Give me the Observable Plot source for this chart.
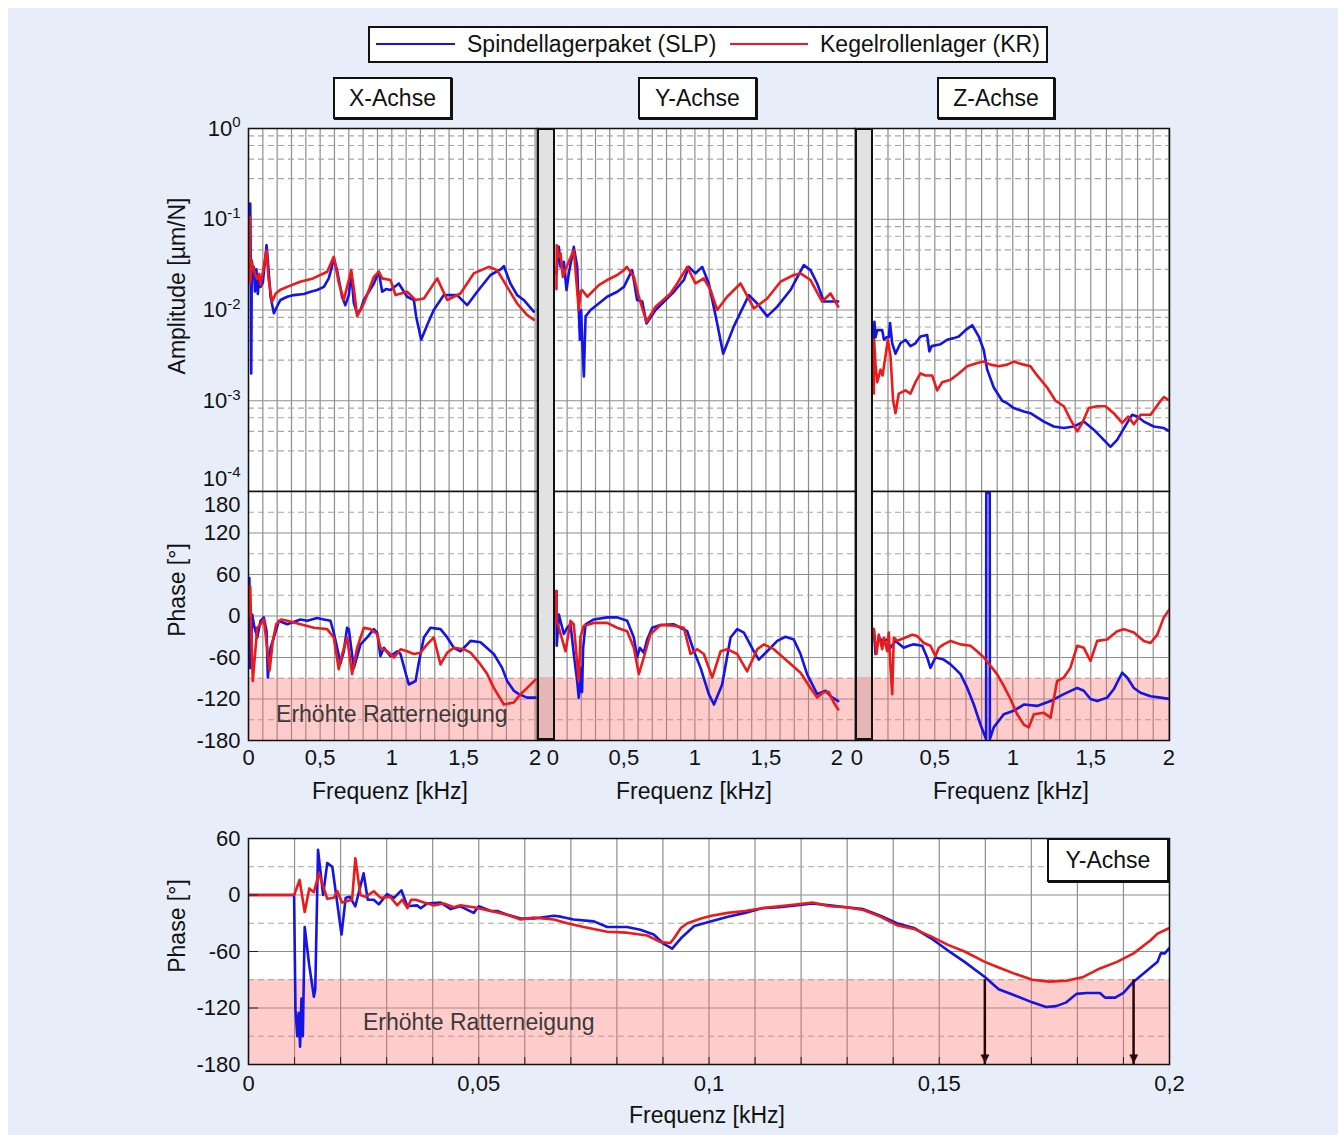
<!DOCTYPE html>
<html><head><meta charset="utf-8">
<script src="https://cdn.jsdelivr.net/npm/d3@7"></script>
<script src="https://cdn.jsdelivr.net/npm/@observablehq/plot@0.6"></script>
<style>
body{margin:0;background:#fff;}
#root{position:relative;width:1338px;height:1135px;background:#fff;overflow:hidden;font-family:"Liberation Sans",Arial,Helvetica,sans-serif;color:#111;}
#bg{position:absolute;left:8px;top:8px;right:0;bottom:0;background:#e7eef9;}
.box{position:absolute;background:#fff;border:2px solid #111;box-sizing:border-box;display:flex;align-items:center;justify-content:center;font-size:23px;box-shadow:1px 1px 0 #111;}
.lbl{position:absolute;font-size:23px;white-space:nowrap;line-height:1;}
.bar{position:absolute;box-sizing:border-box;border:2px solid #111;}
.ln{position:absolute;height:0;}
</style></head><body><div id="root"><div id="bg"></div></div>
<script>
// ---------------- data (frequency in kHz, amplitude in µm/N, phase in °) ----------------
const seriesNames = ["Spindellagerpaket (SLP)", "Kegelrollenlager (KR)"];
const axisNames = ["X-Achse", "Y-Achse", "Z-Achse"];

const xAmpSLP = [[0.005,0.042],[0.012,0.149],[0.016,0.03],[0.019,0.002],[0.023,0.035],[0.03,0.025],[0.037,0.03],[0.045,0.016],[0.055,0.028],[0.065,0.015],[0.075,0.022],[0.084,0.018],[0.1,0.02],[0.126,0.0518],[0.135,0.035],[0.154,0.014],[0.177,0.0092],[0.2,0.011],[0.223,0.0129],[0.27,0.014],[0.316,0.0146],[0.386,0.015],[0.433,0.0159],[0.479,0.0166],[0.526,0.018],[0.56,0.0223],[0.582,0.0299],[0.595,0.037],[0.618,0.0275],[0.653,0.014],[0.676,0.0113],[0.7,0.0146],[0.717,0.0253],[0.735,0.012],[0.758,0.0092],[0.782,0.01],[0.805,0.0129],[0.84,0.0159],[0.875,0.0196],[0.909,0.0264],[0.933,0.0159],[0.96,0.017],[0.991,0.0166],[1.049,0.0196],[1.107,0.014],[1.154,0.0129],[1.17,0.0085],[1.205,0.0047],[1.25,0.007],[1.293,0.01],[1.363,0.0146],[1.456,0.0146],[1.526,0.0113],[1.596,0.0159],[1.689,0.0243],[1.76,0.028],[1.782,0.0305],[1.828,0.0196],[1.875,0.0146],[1.921,0.0129],[1.991,0.0096]];
const xAmpKR = [[0.005,0.03],[0.009,0.106],[0.013,0.02],[0.02,0.035],[0.03,0.03],[0.045,0.025],[0.06,0.022],[0.075,0.025],[0.084,0.019],[0.1,0.026],[0.126,0.0456],[0.14,0.022],[0.165,0.0124],[0.19,0.0152],[0.22,0.0166],[0.27,0.018],[0.36,0.0205],[0.45,0.0223],[0.549,0.0264],[0.595,0.0385],[0.63,0.02],[0.665,0.0129],[0.717,0.0275],[0.74,0.015],[0.758,0.0085],[0.805,0.0118],[0.875,0.0232],[0.91,0.0264],[0.933,0.0223],[0.991,0.0214],[1.026,0.0146],[1.107,0.0159],[1.165,0.0129],[1.224,0.0134],[1.317,0.0223],[1.387,0.0129],[1.479,0.0152],[1.572,0.0253],[1.677,0.0299],[1.735,0.0275],[1.805,0.018],[1.875,0.0118],[1.945,0.0088],[1.991,0.0078]];
const yAmpSLP = [[0.025,0.0253],[0.042,0.0496],[0.054,0.0299],[0.077,0.034],[0.096,0.0166],[0.112,0.0253],[0.147,0.0496],[0.171,0.0299],[0.19,0.0047],[0.199,0.01],[0.206,0.0047],[0.218,0.00185],[0.23,0.0085],[0.265,0.01],[0.323,0.0118],[0.382,0.014],[0.453,0.0159],[0.5,0.018],[0.558,0.0275],[0.593,0.0129],[0.629,0.0124],[0.659,0.0071],[0.723,0.01],[0.852,0.0159],[0.922,0.0214],[0.957,0.0299],[1.004,0.0253],[1.051,0.0299],[1.098,0.0196],[1.157,0.0071],[1.199,0.0033],[1.274,0.0066],[1.38,0.0146],[1.439,0.0118],[1.509,0.0085],[1.58,0.0109],[1.673,0.0166],[1.767,0.0312],[1.814,0.0275],[1.861,0.0196],[1.908,0.0124],[1.978,0.0124],[2.009,0.0124]];
const yAmpKR = [[0.025,0.017],[0.027,0.0518],[0.042,0.0385],[0.054,0.042],[0.07,0.0232],[0.096,0.03],[0.147,0.0456],[0.159,0.0275],[0.182,0.01],[0.195,0.016],[0.206,0.0166],[0.242,0.014],[0.323,0.0188],[0.382,0.0214],[0.453,0.0243],[0.5,0.0275],[0.52,0.0299],[0.57,0.0232],[0.605,0.014],[0.659,0.0074],[0.723,0.0109],[0.828,0.0152],[0.875,0.0196],[0.946,0.0299],[1.004,0.0196],[1.063,0.0223],[1.11,0.0166],[1.157,0.01],[1.227,0.014],[1.321,0.0196],[1.415,0.0104],[1.509,0.0134],[1.603,0.0205],[1.696,0.0243],[1.744,0.0253],[1.814,0.0214],[1.896,0.0124],[1.955,0.0152],[2.009,0.0109]];
const zAmpSLP = [[0.109,0.0047],[0.113,0.0074],[0.12,0.005],[0.131,0.006],[0.163,0.006],[0.174,0.0047],[0.19,0.005],[0.205,0.005],[0.213,0.0072],[0.227,0.0043],[0.248,0.0033],[0.28,0.0043],[0.312,0.0047],[0.344,0.004],[0.376,0.0043],[0.408,0.0051],[0.451,0.0053],[0.465,0.0035],[0.48,0.004],[0.537,0.0042],[0.579,0.0047],[0.622,0.0049],[0.654,0.0051],[0.697,0.006],[0.74,0.0068],[0.782,0.0051],[0.814,0.0036],[0.836,0.0022],[0.878,0.0014],[0.932,0.001],[0.964,0.00094],[1.006,0.00083],[1.071,0.00076],[1.113,0.00073],[1.199,0.00059],[1.263,0.00052],[1.327,0.0005],[1.391,0.00052],[1.455,0.00059],[1.519,0.00048],[1.583,0.00037],[1.626,0.00031],[1.669,0.00037],[1.733,0.00057],[1.765,0.0007],[1.797,0.00067],[1.84,0.00059],[1.904,0.00052],[1.968,0.0005],[2.006,0.00046]];
const zAmpKR = [[0.109,0.0012],[0.111,0.0047],[0.12,0.0025],[0.131,0.0016],[0.152,0.0022],[0.165,0.0019],[0.184,0.0031],[0.199,0.0047],[0.216,0.0031],[0.233,0.001],[0.248,0.00073],[0.269,0.0012],[0.312,0.0013],[0.344,0.0012],[0.376,0.0016],[0.408,0.002],[0.44,0.0019],[0.483,0.0019],[0.515,0.0013],[0.547,0.0016],[0.601,0.0017],[0.654,0.002],[0.708,0.0024],[0.772,0.0026],[0.814,0.0027],[0.857,0.0025],[0.91,0.0024],[0.964,0.0025],[1.006,0.0027],[1.071,0.0025],[1.113,0.0024],[1.156,0.0019],[1.22,0.0014],[1.274,0.001],[1.327,0.00087],[1.37,0.00062],[1.413,0.00046],[1.445,0.00057],[1.487,0.00083],[1.541,0.00087],[1.594,0.00087],[1.647,0.00073],[1.701,0.00057],[1.74,0.00067],[1.776,0.00055],[1.819,0.0007],[1.883,0.0007],[1.936,0.00094],[1.968,0.0011],[2.006,0.001]];

const xPhaseSLP = [[0.0,-75],[0.006,55],[0.012,-75],[0.026,2],[0.04,-15],[0.061,-31],[0.084,-7],[0.107,-2],[0.126,-22],[0.135,-89],[0.154,-46],[0.177,-31],[0.212,-7],[0.27,-12],[0.363,-5],[0.409,-7],[0.479,-3],[0.526,-5],[0.572,-7],[0.595,-24],[0.642,-68],[0.665,-51],[0.688,-17],[0.7,-19],[0.735,-75],[0.782,-41],[0.828,-31],[0.875,-19],[0.898,-24],[0.921,-58],[0.945,-46],[0.991,-58],[1.038,-51],[1.061,-55],[1.096,-82],[1.119,-99],[1.166,-94],[1.189,-67],[1.224,-31],[1.27,-17],[1.34,-19],[1.387,-31],[1.433,-46],[1.48,-51],[1.55,-36],[1.619,-38],[1.712,-55],[1.77,-75],[1.805,-94],[1.852,-108],[1.887,-113],[1.945,-118],[2.003,-118]];
const xPhaseKR = [[0.0,0],[0.012,43],[0.02,-30],[0.03,-94],[0.061,-17],[0.084,-12],[0.107,-5],[0.135,-55],[0.147,-79],[0.17,-36],[0.193,-12],[0.228,-5],[0.27,-7],[0.363,-12],[0.456,-17],[0.549,-19],[0.595,-31],[0.63,-77],[0.654,-55],[0.688,-31],[0.723,-84],[0.758,-46],[0.805,-17],[0.851,-19],[0.898,-26],[0.921,-46],[0.968,-51],[1.015,-60],[1.061,-48],[1.107,-51],[1.154,-55],[1.2,-53],[1.247,-41],[1.293,-31],[1.305,-41],[1.34,-70],[1.387,-53],[1.433,-46],[1.503,-48],[1.55,-53],[1.619,-70],[1.666,-84],[1.712,-104],[1.782,-128],[1.852,-125],[1.898,-113],[1.945,-104],[2.003,-92]];
const yPhaseSLP = [[0.025,36],[0.027,-43],[0.042,2],[0.077,-26],[0.1,-17],[0.124,-12],[0.147,-55],[0.171,-94],[0.182,-118],[0.19,-104],[0.199,-75],[0.205,-110],[0.213,-46],[0.23,-12],[0.288,-5],[0.382,-2],[0.453,-2],[0.523,-7],[0.57,-31],[0.593,-60],[0.612,-46],[0.64,-53],[0.664,-34],[0.699,-17],[0.758,-13],[0.852,-12],[0.899,-17],[0.946,-22],[0.993,-51],[1.04,-75],[1.098,-113],[1.134,-128],[1.192,-99],[1.251,-31],[1.298,-19],[1.345,-24],[1.415,-51],[1.45,-63],[1.509,-51],[1.58,-36],[1.638,-30],[1.696,-34],[1.744,-55],[1.79,-84],[1.861,-113],[1.92,-108],[1.955,-116],[2.009,-123]];
const yPhaseKR = [[0.025,36],[0.027,-7],[0.054,-26],[0.089,-51],[0.124,-7],[0.147,-12],[0.182,-94],[0.194,-31],[0.218,-14],[0.288,-10],[0.382,-10],[0.453,-17],[0.523,-22],[0.57,-46],[0.605,-84],[0.64,-60],[0.687,-26],[0.758,-13],[0.852,-14],[0.922,-17],[0.969,-55],[1.016,-48],[1.063,-55],[1.122,-89],[1.181,-51],[1.227,-48],[1.298,-55],[1.368,-80],[1.439,-48],[1.486,-41],[1.556,-48],[1.65,-65],[1.744,-82],[1.814,-104],[1.861,-118],[1.908,-110],[1.943,-110],[1.978,-125],[2.009,-135]];
const zPhaseSLP = [[0.109,-19],[0.12,-55],[0.141,-31],[0.163,-36],[0.195,-34],[0.216,-46],[0.248,-36],[0.301,-46],[0.333,-43],[0.365,-41],[0.419,-43],[0.451,-60],[0.472,-75],[0.504,-60],[0.557,-63],[0.601,-70],[0.665,-84],[0.708,-104],[0.75,-128],[0.793,-157],[0.825,-176],[0.829,-178],[0.83,178],[0.852,178],[0.853,-178],[0.878,-161],[0.942,-142],[1.006,-137],[1.071,-128],[1.156,-130],[1.242,-123],[1.327,-113],[1.413,-104],[1.455,-108],[1.498,-120],[1.541,-123],[1.605,-118],[1.647,-106],[1.701,-82],[1.733,-89],[1.776,-104],[1.819,-111],[1.883,-116],[1.947,-118],[2.006,-120]];
const zPhaseKR = [[0.109,-19],[0.126,-55],[0.141,-27],[0.163,-48],[0.173,-31],[0.195,-51],[0.205,-24],[0.216,-75],[0.227,-113],[0.237,-31],[0.259,-36],[0.28,-34],[0.312,-31],[0.355,-27],[0.387,-29],[0.43,-39],[0.472,-43],[0.504,-58],[0.526,-46],[0.557,-41],[0.601,-36],[0.665,-41],[0.729,-43],[0.771,-51],[0.814,-60],[0.857,-72],[0.899,-84],[0.942,-101],[0.985,-120],[1.028,-142],[1.071,-157],[1.103,-161],[1.135,-142],[1.199,-140],[1.242,-147],[1.263,-120],[1.284,-94],[1.327,-89],[1.369,-75],[1.413,-43],[1.455,-46],[1.498,-65],[1.541,-36],[1.605,-34],[1.669,-22],[1.712,-19],[1.776,-24],[1.84,-36],[1.883,-39],[1.926,-27],[1.968,-2],[2.006,10]];

const zoomPhaseSLP = [[0,0],[0.0099,0],[0.0102,-122],[0.0106,-150],[0.0109,-125],[0.0112,-161],[0.0115,-110],[0.0118,-150],[0.0122,-34],[0.0132,-75],[0.0142,-108],[0.0145,-100],[0.0151,48],[0.0162,0],[0.0171,34],[0.0182,30],[0.0202,-42],[0.0211,-3],[0.022,-2],[0.0232,-12],[0.025,23],[0.0259,-5],[0.0272,-5],[0.0283,-10],[0.0301,1],[0.0316,-3],[0.0332,5],[0.0345,-12],[0.0366,-11],[0.0374,-14],[0.0388,-9],[0.0417,-8],[0.0439,-15],[0.046,-12],[0.0489,-19],[0.05,-12],[0.0526,-17],[0.054,-17],[0.0562,-21],[0.0591,-25],[0.062,-25],[0.0663,-22],[0.0678,-23],[0.0706,-26],[0.075,-28],[0.0779,-34],[0.0822,-34],[0.0851,-37],[0.088,-42],[0.0902,-52],[0.092,-57],[0.0939,-46],[0.0968,-33],[0.1005,-28],[0.1041,-23],[0.1078,-19],[0.1115,-14],[0.1152,-13],[0.1188,-11],[0.1225,-9],[0.1262,-11],[0.1298,-13],[0.1335,-15],[0.1372,-22],[0.1408,-30],[0.1445,-35],[0.1482,-46],[0.1519,-59],[0.1555,-71],[0.1599,-87],[0.1629,-100],[0.1666,-107],[0.1702,-114],[0.1732,-119],[0.1754,-118],[0.1776,-114],[0.1798,-105],[0.182,-104],[0.1849,-104],[0.186,-109],[0.1882,-109],[0.19,-104],[0.1922,-92],[0.1952,-80],[0.1974,-71],[0.1981,-62],[0.199,-62],[0.2,-56]];
const zoomPhaseKR = [[0,0],[0.0099,0],[0.0111,16],[0.0122,-18],[0.0132,7],[0.0142,3],[0.0153,23],[0.0171,-4],[0.0185,-3],[0.0193,4],[0.0203,-8],[0.0225,-5],[0.0232,39],[0.0243,0],[0.0254,-2],[0.0272,4],[0.0287,-3],[0.0308,-2],[0.0323,-11],[0.0334,-5],[0.0345,-14],[0.0353,-5],[0.0363,-5],[0.0381,-8],[0.0402,-11],[0.0424,-9],[0.0446,-13],[0.046,-11],[0.0489,-13],[0.0526,-17],[0.0562,-21],[0.0591,-26],[0.062,-24],[0.0663,-26],[0.0692,-30],[0.0728,-34],[0.0779,-39],[0.0822,-40],[0.0866,-43],[0.0895,-50],[0.0916,-51],[0.0924,-46],[0.0939,-35],[0.0953,-30],[0.0983,-25],[0.1005,-22],[0.1041,-19],[0.1078,-17],[0.1115,-14],[0.1152,-12],[0.1188,-10],[0.1225,-8],[0.1262,-12],[0.1298,-13],[0.1335,-16],[0.1372,-23],[0.1408,-32],[0.1445,-36],[0.1482,-44],[0.1519,-53],[0.1555,-60],[0.1599,-71],[0.1629,-77],[0.1666,-84],[0.1702,-90],[0.1739,-92],[0.1776,-91],[0.1813,-87],[0.1849,-78],[0.1886,-71],[0.1922,-62],[0.1959,-48],[0.1974,-41],[0.2,-35]];

// ticks & labels
const ampTicks = [1, 0.1, 0.01, 0.001, 0.0001];
const ampTickLabels = ["10^0", "10^-1", "10^-2", "10^-3", "10^-4"];
const ampMinorFactors = [0.83, 0.65, 0.46, 0.28];
const phaseTicks = [180, 120, 60, 0, -60, -120, -180];
const phaseDashed = [150, 90, 30, -30, -90, -150];
const freqTicks = [0, 0.5, 1, 1.5, 2];
const freqTickLabels = ["0", "0,5", "1", "1,5", "2"];
const zoomFreqTicks = [0, 0.05, 0.1, 0.15, 0.2];
const zoomFreqTickLabels = ["0", "0,05", "0,1", "0,15", "0,2"];
const zoomPhaseTicks = [60, 0, -60, -120, -180];
const zoomPhaseDashed = [30, -30, -90, -150];
const chatterThreshold = -90;   // below: "Erhöhte Ratterneigung"
const chatterLabel = "Erhöhte Ratterneigung";
const topLabelPos = [{f: 1.0, p: -142}];
const zoomLabelPos = [{f: 0.05, p: -135}];
const zoomArrows = [{f: 0.1599, from: -90, to: -180}, {f: 0.1922, from: -90, to: -180}];

// ---------------- styling ----------------
const BLUE = "#1414e6", RED = "#ee1a1a", GRID = "#8e8e8e", GRID_D = "#a6a6a6", PINK = "#ff6e6e", ARROW = "#2a0505";
const FONT = '"Liberation Sans", Arial, Helvetica, sans-serif';
const root = document.getElementById("root");
const ampLabel = new Map(ampTicks.map((v, i) => [v, ampTickLabels[i]]));
const freqLabel = new Map(freqTicks.map((v, i) => [v, freqTickLabels[i]]));
const zoomFreqLabel = new Map(zoomFreqTicks.map((v, i) => [v, zoomFreqTickLabels[i]]));
const ampMinor = ampTicks.slice(0, 4).flatMap(d => ampMinorFactors.map(m => d * m));
const freqGrid = d3.range(0, 2.0001, 0.1).map(v => +v.toFixed(2));
const zoomFreqGrid = d3.range(0, 0.20001, 0.01).map(v => +v.toFixed(3));
const degFmt = v => String(v);   // plain hyphen minus as in the original
const style = {background: "transparent", fontFamily: FONT, fontSize: "22px", color: "#111", overflow: "visible"};

function supify(svg) {
  svg.querySelectorAll("text").forEach(t => {
    const s = t.textContent, i = s.indexOf("^");
    if (i < 0) return;
    t.textContent = "";
    const ns = "http://www.w3.org/2000/svg";
    const a = document.createElementNS(ns, "tspan"); a.textContent = s.slice(0, i);
    const b = document.createElementNS(ns, "tspan"); b.textContent = s.slice(i + 1);
    b.setAttribute("dy", "-0.55em"); b.setAttribute("font-size", "15");
    t.append(a, b);
  });
}
function place(svg, left, top) {
  svg.style.position = "absolute"; svg.style.left = left + "px"; svg.style.top = top + "px";
  root.appendChild(svg);
}
function div(cls, css, text) {
  const d = document.createElement("div"); d.className = cls; Object.assign(d.style, css);
  if (text != null) d.textContent = text; root.appendChild(d); return d;
}

// ---------------- layout ----------------
const frameTop = 128, frameMid = 491, frameBot = 740;
const columns = [
  {left: 248, right: 537, domain: [0, 2.017], yAxis: true, amp: [xAmpSLP, xAmpKR], ph: [xPhaseSLP, xPhaseKR], label: true},
  {left: 537, right: 855, domain: [-0.1085, 2.131], yAxis: false, amp: [yAmpSLP, yAmpKR], ph: [yPhaseSLP, yPhaseKR]},
  {left: 855, right: 1169, domain: [-0.0083, 2.0045], yAxis: false, amp: [zAmpSLP, zAmpKR], ph: [zPhaseSLP, zPhaseKR]}
];
const lineOpts = (color) => ({x: d => d[0], y: d => d[1], stroke: color, strokeWidth: 2.6, clip: true, strokeLinejoin: "round"});
const whiteBg = () => Plot.frame({fill: "#fff", stroke: null});

for (const c of columns) {
  // amplitude panel
  {
    const mL = c.yAxis ? 100 : 10, mR = 10, mT = 15, mB = 15;
    const marks = [
      whiteBg(),
      Plot.ruleX(freqGrid, {stroke: GRID, strokeWidth: 1.2}),
      Plot.ruleY(ampMinor, {stroke: GRID_D, strokeWidth: 1.1, strokeDasharray: "6,4"}),
      Plot.ruleY(ampTicks, {stroke: GRID, strokeWidth: 1.2}),
      Plot.line(c.amp[0], lineOpts(BLUE)),
      Plot.line(c.amp[1], lineOpts(RED)),
      Plot.frame({stroke: "#111", strokeWidth: 1.5})
    ];
    if (c.yAxis) {
      marks.push(Plot.axisY(ampTicks.slice(0, 4), {tickFormat: v => ampLabel.get(v), tickSize: 0, tickPadding: 8, label: null}));
      marks.push(Plot.axisY(ampTicks.slice(4), {tickFormat: v => ampLabel.get(v), tickSize: 0, tickPadding: 8, dy: -13, label: null}));
    }
    const svg = Plot.plot({
      width: mL + (c.right - c.left) + mR, height: mT + (frameMid - frameTop) + mB,
      marginLeft: mL, marginRight: mR, marginTop: mT, marginBottom: mB,
      x: {domain: c.domain, axis: null},
      y: c.yAxis ? {type: "log", domain: [1e-4, 1]} : {type: "log", domain: [1e-4, 1], axis: null},
      marks, style
    });
    supify(svg);
    place(svg, c.left - mL, frameTop - mT);
  }
  // phase panel
  {
    const mL = c.yAxis ? 100 : 10, mR = 10, mT = 10, mB = 45;
    const band = [{x1: c.domain[0], x2: c.domain[1], y1: -180, y2: chatterThreshold}];
    const marks = [
      whiteBg(),
      Plot.ruleX(freqGrid, {stroke: GRID, strokeWidth: 1.2}),
      Plot.ruleY(phaseDashed, {stroke: GRID_D, strokeWidth: 1.1, strokeDasharray: "6,4"}),
      Plot.ruleY(phaseTicks, {stroke: GRID, strokeWidth: 1.2}),
      Plot.rect(band, {x1: "x1", x2: "x2", y1: "y1", y2: "y2", fill: PINK, fillOpacity: 0.35}),
      Plot.line(c.ph[0], lineOpts(BLUE)),
      Plot.line(c.ph[1], lineOpts(RED)),
      Plot.axisX(freqTicks, {tickFormat: v => freqLabel.get(v), tickSize: 0, tickPadding: 9, label: null}),
      Plot.frame({stroke: "#111", strokeWidth: 1.5})
    ];
    if (c.label) marks.push(Plot.text(topLabelPos, {x: "f", y: "p", text: () => chatterLabel, fontSize: 23, fill: "#3a3a3a"}));
    if (c.yAxis) {
      marks.push(Plot.axisY(phaseTicks.slice(1), {tickFormat: degFmt, tickSize: 0, tickPadding: 8, label: null}));
      marks.push(Plot.axisY(phaseTicks.slice(0, 1), {tickFormat: degFmt, tickSize: 0, tickPadding: 8, dy: 13, label: null}));
    }
    const svg = Plot.plot({
      width: mL + (c.right - c.left) + mR, height: mT + (frameBot - frameMid) + mB,
      marginLeft: mL, marginRight: mR, marginTop: mT, marginBottom: mB,
      x: {domain: c.domain},
      y: c.yAxis ? {domain: [-180, 180]} : {domain: [-180, 180], axis: null},
      marks, style
    });
    place(svg, c.left - mL, frameMid - mT);
  }
}

// gray separator bars
for (const [l, r] of [[537, 555], [855, 873]]) {
  div("bar", {left: l + "px", top: frameTop + "px", width: (r - l) + "px", height: (frameBot - frameTop) + "px",
    background: "linear-gradient(to bottom, #e2e2e2 0px, #e2e2e2 547px, #e6b6b6 547px)"});
}

// bottom zoom plot
{
  const L = 248, R = 1169, T = 838, B = 1064;
  const mL = 100, mR = 10, mT = 10, mB = 40;
  const band = [{x1: 0, x2: 0.2, y1: -180, y2: chatterThreshold}];
  const svg = Plot.plot({
    width: mL + (R - L) + mR, height: mT + (B - T) + mB,
    marginLeft: mL, marginRight: mR, marginTop: mT, marginBottom: mB,
    x: {domain: [0, 0.2]}, y: {domain: [-180, 60]},
    marks: [
      whiteBg(),
      Plot.ruleX(zoomFreqGrid, {stroke: GRID, strokeWidth: 1.2}),
      Plot.ruleY(zoomPhaseDashed, {stroke: GRID_D, strokeWidth: 1.1, strokeDasharray: "6,4"}),
      Plot.ruleY(zoomPhaseTicks, {stroke: GRID, strokeWidth: 1.2}),
      Plot.rect(band, {x1: "x1", x2: "x2", y1: "y1", y2: "y2", fill: PINK, fillOpacity: 0.35}),
      Plot.text(zoomLabelPos, {x: "f", y: "p", text: () => chatterLabel, fontSize: 23, fill: "#3a3a3a"}),
      Plot.line(zoomPhaseSLP, lineOpts(BLUE)),
      Plot.line(zoomPhaseKR, lineOpts(RED)),
      Plot.ruleX(zoomArrows, {x: "f", y1: "from", y2: "to", stroke: ARROW, strokeWidth: 2.5}),
      Plot.text(zoomArrows, {x: "f", y: "to", text: () => "▼", fill: ARROW, fontSize: 15, dy: -6}),
      Plot.axisX(zoomFreqGrid, {tickSize: -7, tickFormat: () => "", label: null, stroke: "#222"}),
      Plot.axisY(zoomPhaseTicks, {tickSize: -10, tickFormat: () => "", label: null, stroke: "#222"}),
      Plot.axisX(zoomFreqTicks, {tickFormat: v => zoomFreqLabel.get(v), tickSize: 0, tickPadding: 11, label: null}),
      Plot.axisY(zoomPhaseTicks, {tickFormat: degFmt, tickSize: 0, tickPadding: 8, label: null}),
      Plot.frame({stroke: "#111", strokeWidth: 1.5})
    ],
    style
  });
  place(svg, L - mL, T - mT);
  div("box", {left: "1047px", top: "838px", width: "122px", height: "44px"}, axisNames[1]);
}

// titles
function lbl(text, x, y, rot) {
  return div("lbl", {left: x + "px", top: y + "px", transform: "translate(-50%,-50%)" + (rot ? " rotate(-90deg)" : "")}, text);
}
lbl("Amplitude [µm/N]", 177, 286, true);
lbl("Phase [°]", 177, 590, true);
lbl("Phase [°]", 177, 926, true);
lbl("Frequenz [kHz]", 390, 791);
lbl("Frequenz [kHz]", 694, 791);
lbl("Frequenz [kHz]", 1011, 791);
lbl("Frequenz [kHz]", 707, 1115);

// column boxes
div("box", {left: "333px", top: "77px", width: "119px", height: "42px"}, axisNames[0]);
div("box", {left: "638px", top: "77px", width: "119px", height: "42px"}, axisNames[1]);
div("box", {left: "937px", top: "77px", width: "118px", height: "42px"}, axisNames[2]);

// legend
div("box", {left: "368px", top: "26px", width: "680px", height: "37px", boxShadow: "none"});
div("ln", {left: "376px", top: "43px", width: "79px", borderTop: "2.5px solid " + BLUE});
div("lbl", {left: "467px", top: "44px", transform: "translate(0,-50%)"}, seriesNames[0]);
div("ln", {left: "730px", top: "43px", width: "78px", borderTop: "2.5px solid " + RED});
div("lbl", {left: "820px", top: "44px", transform: "translate(0,-50%)"}, seriesNames[1]);
</script></body></html>
